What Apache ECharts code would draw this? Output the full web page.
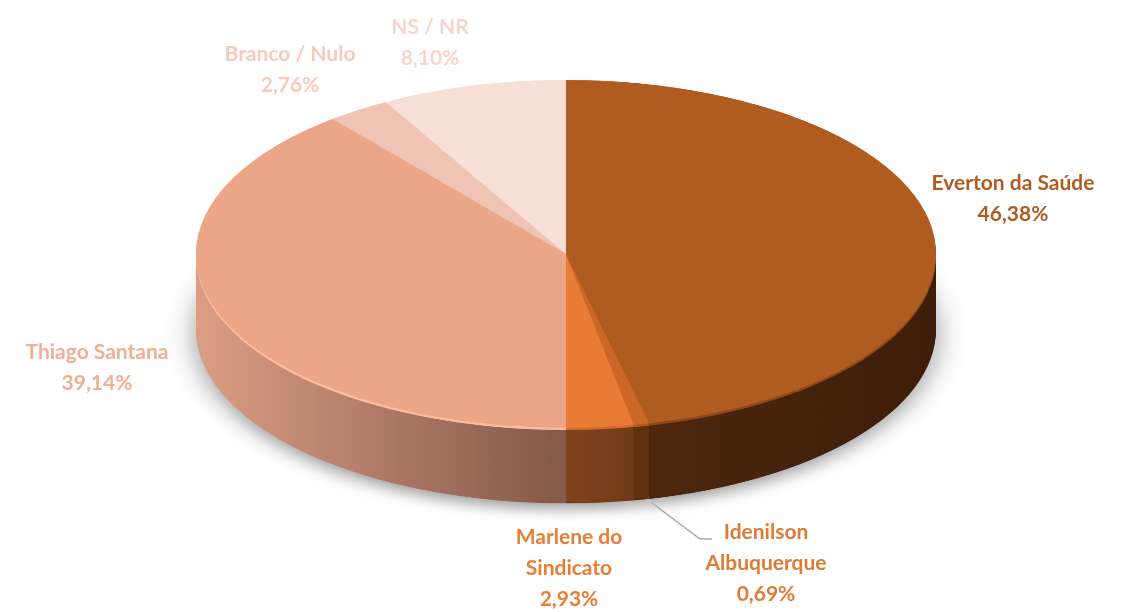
<!DOCTYPE html>
<html><head><meta charset="utf-8">
<script src="https://cdn.jsdelivr.net/npm/echarts@6/dist/echarts.min.js"></script>
<style>
html,body{margin:0;padding:0;background:#fff;width:1141px;height:612px;overflow:hidden;}
#pie{position:absolute;left:0;top:0;width:1141px;height:1302px;transform:scaleY(0.47);transform-origin:0 0;}
#lab{position:absolute;left:0;top:0;width:1141px;height:612px;}
</style></head>
<body><div id="pie"></div><div id="lab"></div>
<script>
// ---- data ----
const categories = ['Everton da Saúde', 'Idenilson Albuquerque', 'Marlene do Sindicato', 'Thiago Santana', 'Branco / Nulo', 'NS / NR'];
const values = [46.38, 0.69, 2.93, 39.14, 2.76, 8.10];
const labelLines = [['Everton da Saúde'], ['Idenilson', 'Albuquerque'], ['Marlene do', 'Sindicato'], ['Thiago Santana'], ['Branco / Nulo'], ['NS / NR']];

// ---- styles ----
const topColors = ['#B05C21', '#CC6826', '#E97C34', '#EBA688', '#F0C4B4', '#F7DFD7'];
const rimColors = ['#8E4818', '#B25A20', '#D06C2C', '#FDBC9D', '#F5CDBE', '#FAE6DF'];
const labelColors = ['#B05C21', '#E07A35', '#EA7D36', '#F0AE92', '#F4CBBB', '#F6D5CA'];
const sideStops = [
  [[0, '#5A3015'], [0.5, '#52290F'], [1, '#3E1E0A']],
  [[0, '#6A3816'], [0.5, '#62330F'], [1, '#5A2E12']],
  [[0, '#88491F'], [0.5, '#80441C'], [0.62, '#6C3817'], [1, '#6C3817']],
  [[0, '#DC9E84'], [0.5, '#84584A'], [1, '#84584A']],
  [[0, '#E0B2A2'], [1, '#C09080']],
  [[0, '#E8CCC2'], [1, '#C8A89E']]
];
const labelAnchor = [[1013, 168], [766, 517], [569, 522], [97, 337], [290, 39], [430, 12]];
const cx = 566, cy = 540, R = 370, depth = 157;

function grad(stops) {
  return { type: 'linear', x: 195, y: 0, x2: 935, y2: 0, global: true,
    colorStops: stops.map(s => ({ offset: s[0], color: s[1] })) };
}
function pieSeries(offset, colorFn, extra) {
  return Object.assign({
    type: 'pie', silent: true, animation: false, startAngle: 90, clockwise: true,
    center: [cx, cy + offset], radius: [0, R], label: { show: false }, labelLine: { show: false },
    emphasis: { disabled: true },
    data: categories.map((c, i) => ({ name: c, value: values[i], itemStyle: { color: colorFn(i) } }))
  }, extra || {});
}
const series = [];
// shadow base
series.push(pieSeries(depth + 4, i => grad(sideStops[i]), {
  itemStyle: { shadowBlur: 30, shadowColor: 'rgba(0,0,0,0.4)', shadowOffsetY: 12 }
}));
for (let off = depth; off > 5; off -= 2) {
  series.push(pieSeries(off, i => grad(sideStops[i])));
}
series.push(pieSeries(5, i => rimColors[i]));
series.push(pieSeries(0, i => topColors[i]));

const pie = echarts.init(document.getElementById('pie'), null, { renderer: 'canvas' });
pie.setOption({ animation: false, series: series });

const lab = echarts.init(document.getElementById('lab'));
const texts = categories.map((c, i) => ({
  type: 'text', silent: true,
  style: {
    text: labelLines[i].join('\n') + '\n' + values[i].toFixed(2).replace('.', ',') + '%',
    x: labelAnchor[i][0], y: labelAnchor[i][1], align: 'center', verticalAlign: 'top',
    fontFamily: 'Lato', fontWeight: 'bold', fontSize: 21, lineHeight: 31, fill: labelColors[i]
  }
}));
texts.push({ type: 'polyline', silent: true,
  shape: { points: [[652, 503], [700, 539], [712, 539]] },
  style: { stroke: '#A6A6A6', lineWidth: 1.3, fill: null } });
lab.setOption({ animation: false, graphic: texts });
</script></body></html>
